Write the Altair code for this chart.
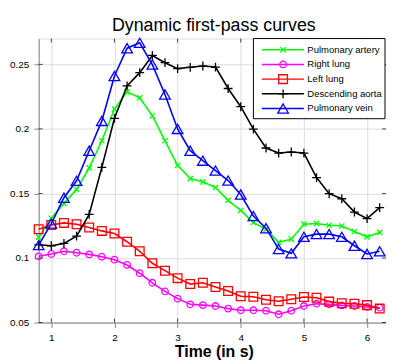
import altair as alt
import pandas as pd

# ---------------- data ----------------
time = [0.8, 1.0, 1.2, 1.4, 1.6, 1.8, 2.0, 2.2, 2.4, 2.6, 2.8, 3.0, 3.2, 3.4,
        3.6, 3.8, 4.0, 4.2, 4.4, 4.6, 4.8, 5.0, 5.2, 5.4, 5.6, 5.8, 6.0, 6.2]

pulmonary_artery = [0.1162, 0.1308, 0.1423, 0.1531, 0.1698, 0.1908, 0.2154, 0.2287,
                    0.2241, 0.2102, 0.1908, 0.1718, 0.1615, 0.1590, 0.1546, 0.1446,
                    0.1369, 0.1275, 0.1223, 0.1121, 0.1146, 0.1262, 0.1267, 0.1254,
                    0.1248, 0.1205, 0.1164, 0.1198]
right_lung = [0.1013, 0.1031, 0.1052, 0.1041, 0.1028, 0.1010, 0.0987, 0.0946,
              0.0882, 0.0808, 0.0741, 0.0685, 0.0641, 0.0635, 0.0628, 0.0608,
              0.0595, 0.0595, 0.0592, 0.0564, 0.0592, 0.0628, 0.0646, 0.0641,
              0.0633, 0.0628, 0.0621, 0.0615]
left_lung = [0.1223, 0.1256, 0.1272, 0.1262, 0.1236, 0.1210, 0.1190, 0.1126,
             0.1052, 0.0959, 0.0902, 0.0844, 0.0798, 0.0808, 0.0775, 0.0744,
             0.0704, 0.0700, 0.0677, 0.0665, 0.0681, 0.0698, 0.0692, 0.0662,
             0.0650, 0.0646, 0.0635, 0.0608]
descending_aorta = [0.1102, 0.1095, 0.1113, 0.1169, 0.1338, 0.1702, 0.2082, 0.2333,
                    0.2436, 0.2569, 0.2513, 0.2467, 0.2477, 0.2487, 0.2479, 0.2313,
                    0.2172, 0.1998, 0.1852, 0.1813, 0.1821, 0.1813, 0.1623, 0.1498,
                    0.1459, 0.1356, 0.1305, 0.1390]
pulmonary_vein = [0.1100, 0.1267, 0.1467, 0.1598, 0.1831, 0.2062, 0.2410, 0.2625,
                  0.2667, 0.2498, 0.2267, 0.2000, 0.1831, 0.1754, 0.1677, 0.1600,
                  0.1492, 0.1325, 0.1231, 0.1069, 0.1036, 0.1164, 0.1185, 0.1185,
                  0.1164, 0.1095, 0.1031, 0.1052]

names = ["Pulmonary artery", "Right lung", "Left lung", "Descending aorta", "Pulmonary vein"]
values = [pulmonary_artery, right_lung, left_lung, descending_aorta, pulmonary_vein]
x_ticks = [1, 2, 3, 4, 5, 6]
y_ticks = [0.05, 0.1, 0.15, 0.2, 0.25]

# ---------------- styles ----------------
colors = ["#00ff00", "#ff00ff", "#ff0000", "#000000", "#0000ff"]
X_PATH = "M-1,-1L1,1M-1,1L1,-1"
PLUS_PATH = "M-1,0L1,0M0,-1L0,1"
shapes = [X_PATH, "circle", "square", PLUS_PATH, "triangle-up"]
sizes = [28, 44, 78, 80, 115]

W, H = 351, 287
FONT = "Liberation Sans"

rows = []
for n, vals in zip(names, values):
    for t, v in zip(time, vals):
        rows.append({"s": n, "t": t, "v": v})
df = pd.DataFrame(rows)

xenc = alt.X("t:Q", scale=alt.Scale(domain=[0.8, 6.3], nice=False, zero=False),
             axis=alt.Axis(values=x_ticks, format="d", title="Time (in s)",
                           titleFontSize=16, titleFontWeight="bold", titleFont=FONT,
                           titleY=34, titleBaseline="alphabetic", titleX=177,
                           labelPadding=5))
yenc = alt.Y("v:Q", scale=alt.Scale(domain=[0.05, 0.27], nice=False, zero=False),
             axis=alt.Axis(values=y_ticks, format=".2~f", title=None, labelPadding=5))

layers = []
for n, c, sh, sz in zip(names, colors, shapes, sizes):
    base = alt.Chart(df).transform_filter(alt.datum.s == n)
    layers.append(base.mark_line(color=c, strokeWidth=1.6).encode(x=xenc, y=yenc))
    layers.append(base.mark_point(shape=sh, size=sz, color=c, filled=False,
                                  strokeWidth=1.3, opacity=1).encode(x=xenc, y=yenc))

# inward ticks on all four sides
xt = pd.DataFrame({"t": x_ticks})
yt = pd.DataFrame({"v": y_ticks})
for yy in [H - 2, 2]:
    layers.append(alt.Chart(xt).mark_tick(color="black", size=4, thickness=1)
                  .encode(x=alt.X("t:Q"), y=alt.value(yy)))
for xx in [2, W - 2]:
    layers.append(alt.Chart(yt).mark_tick(color="black", size=4, thickness=1)
                  .encode(y=alt.Y("v:Q"), x=alt.value(xx)))

# legend box
one = pd.DataFrame({"a": [0]})
LX0, LX1, LY0, LY1 = 217, 350, 0, 81
layers.append(alt.Chart(one).mark_rect(fill="white", stroke="black", strokeWidth=1)
              .encode(x=alt.value(LX0), x2=alt.value(LX1), y=alt.value(LY0), y2=alt.value(LY1)))
for i, (n, c, sh, sz) in enumerate(zip(names, colors, shapes, sizes)):
    ly = 11.3 + 14.85 * i
    d = pd.DataFrame({"name": [n]})
    layers.append(alt.Chart(d).mark_rule(color=c, strokeWidth=1.5)
                  .encode(x=alt.value(225.5), x2=alt.value(268), y=alt.value(ly)))
    layers.append(alt.Chart(d).mark_point(shape=sh, size=sz, color=c, filled=False,
                                          strokeWidth=1.3, opacity=1)
                  .encode(x=alt.value(247), y=alt.value(ly)))
    layers.append(alt.Chart(d).mark_text(align="left", baseline="middle", font=FONT,
                                         fontSize=9.6, color="black")
                  .encode(x=alt.value(271.5), y=alt.value(ly), text="name:N"))

chart = alt.layer(*layers).properties(
    width=W, height=H,
    title=alt.TitleParams("Dynamic first-pass curves", fontSize=18, font=FONT,
                          fontWeight="normal", baseline="alphabetic", offset=9.5,
                          dx=1.5, dy=22.5, color="black"),
    autosize=alt.AutoSizeParams(type="none"),
    padding={"left": 31, "top": 29, "right": 0, "bottom": 38},
).configure_view(stroke="black", strokeWidth=1).configure_axis(
    domain=False, ticks=False, tickSize=0, grid=False, labelFont=FONT,
    labelFontSize=13, labelColor="black", titleColor="black"
).configure(background="white")

chart.save("out.html", embed_options={"renderer": "svg", "actions": False})
